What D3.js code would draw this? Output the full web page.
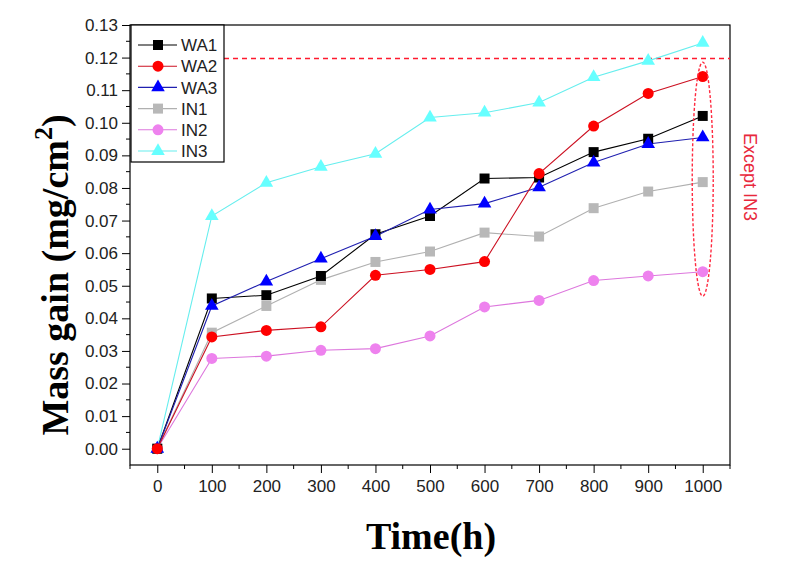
<!DOCTYPE html>
<html><head><meta charset="utf-8">
<script src="https://cdn.jsdelivr.net/npm/d3@7"></script>
<style>body{margin:0;background:#fff}svg{display:block}</style>
</head><body>
<svg id="c" width="800" height="562"></svg>
<script>
const time = [0,100,200,300,400,500,600,700,800,900,1000];
const WA1 = [0,0.0461,0.0471,0.0530,0.0658,0.0714,0.0829,0.0832,0.0910,0.0951,0.1021];
const WA2 = [0,0.0343,0.0363,0.0374,0.0532,0.0550,0.0574,0.0844,0.0990,0.1090,0.1142];
const WA3 = [0,0.0438,0.0513,0.0583,0.0652,0.0734,0.0752,0.0802,0.0878,0.0935,0.0955];
const IN1 = [0,0.0356,0.0438,0.0518,0.0573,0.0605,0.0663,0.0651,0.0738,0.0789,0.0818];
const IN2 = [0,0.0277,0.0284,0.0302,0.0307,0.0346,0.0435,0.0455,0.0516,0.0530,0.0543];
const IN3 = [0,0.0714,0.0816,0.0865,0.0905,0.1016,0.1031,0.1062,0.1140,0.1190,0.1245];
const seriesNames = ["WA1","WA2","WA3","IN1","IN2","IN3"];
const xTicks = [0,100,200,300,400,500,600,700,800,900,1000];
const yTicks = [0,0.01,0.02,0.03,0.04,0.05,0.06,0.07,0.08,0.09,0.10,0.11,0.12,0.13];
const limitValue = 0.12;

const styles = [
  {line:"#000000", fill:"#000000", sym:d3.symbolSquare, size:100},
  {line:"#cc1122", fill:"#ff0000", sym:d3.symbolCircle, size:95},
  {line:"#2020b0", fill:"#0000ff", sym:d3.symbolTriangle, size:80},
  {line:"#b0b0b0", fill:"#b8b8b8", sym:d3.symbolSquare, size:100},
  {line:"#dd77dd", fill:"#ee82ee", sym:d3.symbolCircle, size:95},
  {line:"#66eeee", fill:"#66ffff", sym:d3.symbolTriangle, size:80}
];
const data = [WA1,WA2,WA3,IN1,IN2,IN3];
const drawOrder = [5,4,3,0,2,1];

const svg = d3.select("#c");
const L=130, R=730, T=25, B=465;
const x = d3.scaleLinear().domain([-50,1050]).range([L,R]);
const y = d3.scaleLinear().domain([-0.005,0.13]).range([B,T]);
const font = "'Liberation Sans', Arial, sans-serif";
const serif = "'Liberation Serif','Times New Roman',serif";

svg.append("rect").attr("x",L).attr("y",T).attr("width",R-L).attr("height",B-T)
  .attr("fill","#fff").attr("stroke","#000").attr("stroke-width",1.2);

// x axis
const xAxis = d3.axisBottom(x).tickValues(xTicks).tickSize(8).tickFormat(d3.format("d"));
const gx = svg.append("g").attr("transform",`translate(0,${B})`).call(xAxis);
gx.select(".domain").remove();
gx.selectAll("text").attr("font-family",font).attr("font-size",17).attr("fill","#222").attr("dy","0.95em");
const xMinor = d3.range(-50,1051,100);
svg.append("g").selectAll("line").data(xMinor).join("line")
  .attr("x1",d=>x(d)).attr("x2",d=>x(d)).attr("y1",B).attr("y2",B+4).attr("stroke","#000");

// y axis
const yAxis = d3.axisLeft(y).tickValues(yTicks).tickSize(8).tickFormat(d3.format(".2f"));
const gy = svg.append("g").attr("transform",`translate(${L},0)`).call(yAxis);
gy.select(".domain").remove();
gy.selectAll("text").attr("font-family",font).attr("font-size",17).attr("fill","#222").attr("x",-12);
const yMinor = d3.range(0.005,0.13,0.01);
svg.append("g").selectAll("line").data(yMinor).join("line")
  .attr("x1",L-4).attr("x2",L).attr("y1",d=>y(d)).attr("y2",d=>y(d)).attr("stroke","#000");

// limit line
svg.append("line").attr("x1",224).attr("x2",R).attr("y1",Math.round(y(limitValue))+0.5).attr("y2",Math.round(y(limitValue))+0.5)
  .attr("stroke","#ff1a2e").attr("stroke-width",1.3).attr("stroke-dasharray","5,4");

// series
const line = d3.line().x((d,i)=>x(time[i])).y(d=>y(d));
drawOrder.forEach(k=>{
  const s = styles[k];
  svg.append("path").datum(data[k]).attr("d",line).attr("fill","none")
    .attr("stroke",s.line).attr("stroke-width",1.1);
});
drawOrder.forEach(k=>{
  const s = styles[k];
  svg.append("g").selectAll("path").data(data[k]).join("path")
    .attr("transform",(d,i)=>`translate(${x(time[i])},${y(d)})`)
    .attr("d",d3.symbol().type(s.sym).size(s.size))
    .attr("fill",s.fill);
});

// ellipse annotation
const eTop = 0.1186, eBot = 0.0468;
svg.append("ellipse").attr("cx",x(1000)).attr("cy",(y(eTop)+y(eBot))/2)
  .attr("rx",10.5).attr("ry",(y(eBot)-y(eTop))/2)
  .attr("fill","none").attr("stroke","#ff2a40").attr("stroke-width",1.4).attr("stroke-dasharray","3,2");
svg.append("text").attr("transform",`translate(744,177) rotate(90)`)
  .attr("text-anchor","middle").attr("font-family",font).attr("font-size",18)
  .attr("fill","#e8283c").text("Except IN3");

// legend
const lg = svg.append("g");
lg.append("rect").attr("x",131).attr("y",T).attr("width",93).attr("height",137)
  .attr("fill","#fff").attr("stroke","#000").attr("stroke-width",1.2);
seriesNames.forEach((n,k)=>{
  const s = styles[k];
  const yy = 45 + k*21.2;
  lg.append("line").attr("x1",138).attr("x2",177).attr("y1",yy).attr("y2",yy)
    .attr("stroke",s.line).attr("stroke-width",1.1);
  lg.append("path").attr("transform",`translate(158,${yy})`)
    .attr("d",d3.symbol().type(s.sym).size(s.size)).attr("fill",s.fill);
  lg.append("text").attr("x",181).attr("y",yy).attr("dy","0.36em")
    .attr("font-family",font).attr("font-size",17).attr("fill","#222").text(n);
});

// titles
svg.append("text").attr("x",431).attr("y",549).attr("text-anchor","middle")
  .attr("font-family",serif).attr("font-weight","bold")
  .attr("font-size",38).attr("fill","#000").text("Time(h)");
const yt = svg.append("text").attr("transform","translate(68,275) rotate(-90)").attr("text-anchor","middle")
  .attr("font-family",serif).attr("font-weight","bold")
  .attr("font-size",38).attr("fill","#000");
yt.append("tspan").text("Mass gain (mg/cm");
yt.append("tspan").attr("font-size",26).attr("dy","-0.6em").text("2");
yt.append("tspan").attr("dy","0.41em").text(")");
</script>
</body></html>
